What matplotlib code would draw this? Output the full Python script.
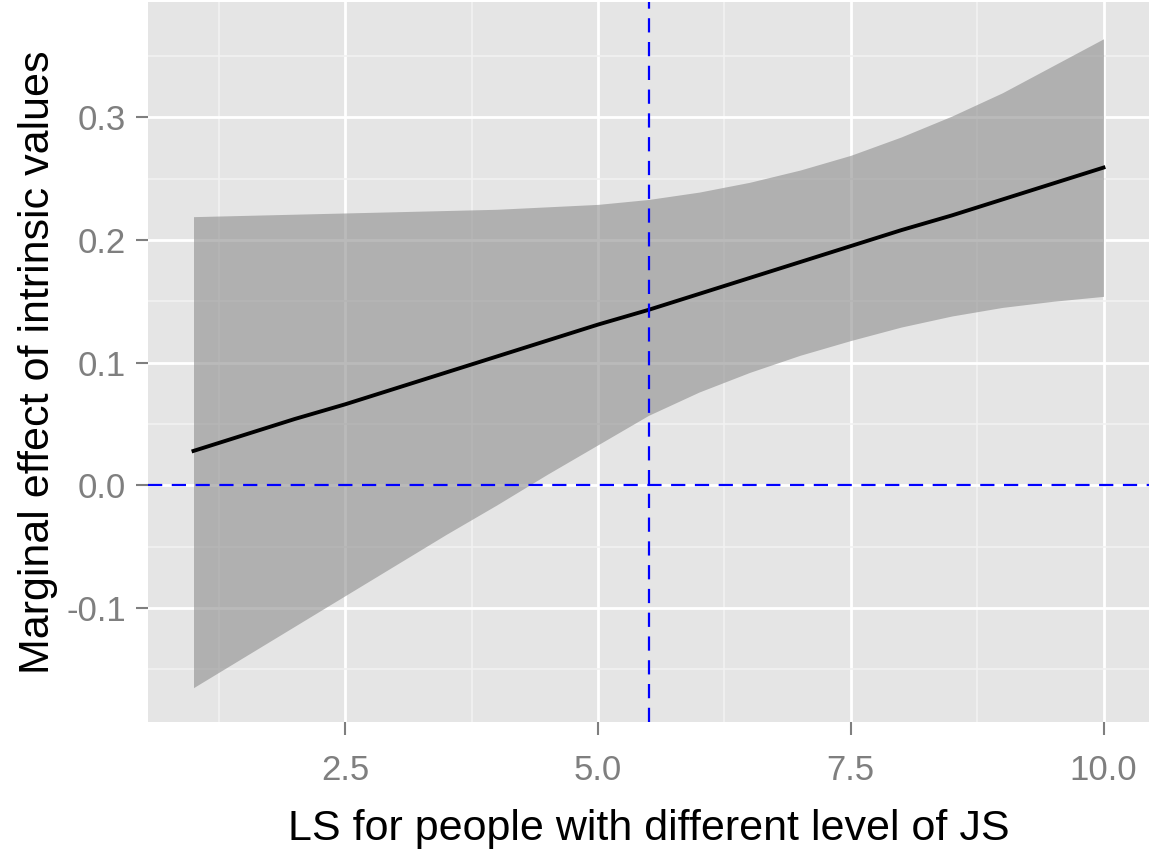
import numpy as np
import matplotlib.pyplot as plt
from matplotlib.ticker import MultipleLocator

plt.rcParams['font.family'] = ['Liberation Sans', 'DejaVu Sans']

# values
ls_level = [1.0, 1.5, 2.0, 2.5, 3.0, 3.5, 4.0, 4.5, 5.0, 5.5,
            6.0, 6.5, 7.0, 7.5, 8.0, 8.5, 9.0, 9.5, 10.0]
effect = [0.028, 0.041, 0.054, 0.066, 0.079, 0.092, 0.105, 0.118, 0.131, 0.143,
          0.156, 0.169, 0.182, 0.195, 0.208, 0.220, 0.233, 0.246, 0.259]
upper = [0.219, 0.220, 0.221, 0.222, 0.223, 0.224, 0.225, 0.227, 0.229, 0.233,
         0.239, 0.247, 0.257, 0.269, 0.284, 0.301, 0.320, 0.342, 0.364]
lower = [-0.165, -0.140, -0.115, -0.090, -0.065, -0.040, -0.016, 0.009, 0.033, 0.057,
         0.076, 0.092, 0.106, 0.118, 0.129, 0.138, 0.145, 0.150, 0.154]
mean_ls = 5.5
x_ticks = [2.5, 5.0, 7.5, 10.0]
y_ticks = [-0.1, 0.0, 0.1, 0.2, 0.3]

W, H = 1166, 855
fig = plt.figure(figsize=(W / 100, H / 100), dpi=100)
ax = fig.add_axes([148 / W, 1 - 722 / H, 1001 / W, 720 / H])

ax.set_facecolor('#E5E5E5')
for s in ax.spines.values():
    s.set_visible(False)

ax.set_xlim(0.55, 10.45)
ax.set_ylim(-0.193, 0.394)
ax.set_xticks(x_ticks)
ax.set_xticklabels(['2.5', '5.0', '7.5', '10.0'])
ax.set_yticks(y_ticks)
ax.set_yticklabels(['-0.1', '0.0', '0.1', '0.2', '0.3'])
ax.xaxis.set_minor_locator(MultipleLocator(1.25))
ax.yaxis.set_minor_locator(MultipleLocator(0.05))

ax.grid(which='major', color='white', linewidth=2.0)
ax.grid(which='minor', color='#F2F2F2', linewidth=1.2)
ax.set_axisbelow(True)

ax.tick_params(which='major', length=9, width=1.5, color='#7F7F7F',
               labelsize=25, labelcolor='#7F7F7F')
ax.tick_params(axis='x', pad=14)
ax.tick_params(axis='y', pad=7)
ax.tick_params(which='minor', length=0)

ax.fill_between(ls_level, lower, upper, color='#8D8D8D', alpha=0.6,
                linewidth=0, zorder=2)
ax.plot(ls_level, effect, color='black', linewidth=2.8, zorder=3)

ax.axhline(0, color='#0000FF', linewidth=1.6, dashes=(6.4, 4.3), zorder=4)
ax.axvline(mean_ls, color='#0000FF', linewidth=1.6, dashes=(6.4, 4.3), zorder=4)

ax.set_xlabel('LS for people with different level of JS', fontsize=31, labelpad=16)
ax.set_ylabel('Marginal effect of intrinsic values', fontsize=31, labelpad=6)

fig.savefig('out.png', dpi=100)
